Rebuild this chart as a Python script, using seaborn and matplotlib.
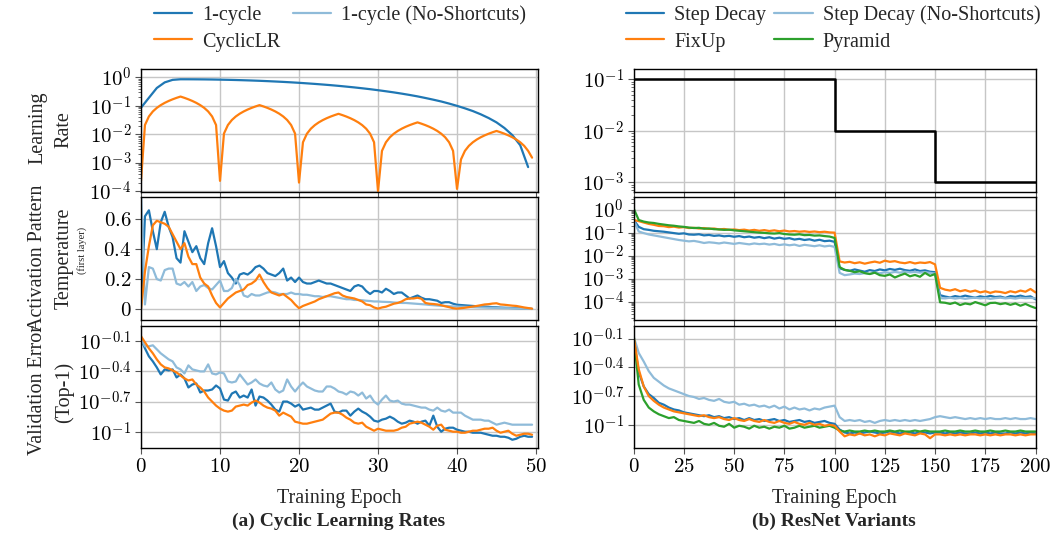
import numpy as np
import matplotlib
matplotlib.use("Agg")
import matplotlib.pyplot as plt
from matplotlib.ticker import LogLocator, NullLocator, NullFormatter
import seaborn as sns

# ---------------- data: (a) cyclic learning rates, 0.5-epoch grid ----------------
epochs_a = np.arange(0, 50, 0.5)
epochs_1c = np.arange(0, 50)

lr_onecycle = [0.085, 0.19, 0.42, 0.66, 0.81, 0.85, 0.849, 0.846, 0.841, 0.834,
               0.824, 0.813, 0.800, 0.785, 0.769, 0.751, 0.731, 0.709, 0.687, 0.663,
               0.638, 0.611, 0.584, 0.556, 0.528, 0.499, 0.469, 0.440, 0.410, 0.381,
               0.351, 0.322, 0.294, 0.266, 0.239, 0.213, 0.187, 0.163, 0.141, 0.119,
               0.099, 0.081, 0.065, 0.050, 0.037, 0.026, 0.0165, 0.0093, 0.0041, 0.0007]

lr_cyclic = [0.00023, 0.021, 0.042, 0.063, 0.084, 0.105, 0.126, 0.147, 0.168, 0.189,
             0.21, 0.189, 0.168, 0.147, 0.126, 0.105, 0.084, 0.063, 0.042, 0.021,
             0.00023, 0.0105, 0.021, 0.0315, 0.042, 0.0525, 0.063, 0.0735, 0.084, 0.0945,
             0.105, 0.0945, 0.084, 0.0735, 0.063, 0.0525, 0.042, 0.0315, 0.021, 0.0105,
             0.0002, 0.0052, 0.0104, 0.0156, 0.0208, 0.026, 0.0312, 0.0364, 0.0416, 0.0468,
             0.052, 0.0468, 0.0416, 0.0364, 0.0312, 0.026, 0.0208, 0.0156, 0.0104, 0.0052,
             0.0001, 0.0026, 0.0052, 0.0078, 0.0104, 0.013, 0.0156, 0.0182, 0.0208, 0.0234,
             0.026, 0.0234, 0.0208, 0.0182, 0.0156, 0.013, 0.0104, 0.0078, 0.0052, 0.0026,
             0.00012, 0.0013, 0.0026, 0.0039, 0.0052, 0.0065, 0.0078, 0.0091, 0.0104, 0.0117,
             0.013, 0.0117, 0.0104, 0.0091, 0.0078, 0.0065, 0.0052, 0.0039, 0.0026, 0.0015]

temp_onecycle = [0.0, 0.62, 0.66, 0.52, 0.40, 0.58, 0.65, 0.55, 0.48, 0.34,
                 0.31, 0.52, 0.45, 0.38, 0.42, 0.34, 0.30, 0.44, 0.54, 0.42,
                 0.28, 0.32, 0.24, 0.21, 0.17, 0.23, 0.24, 0.23, 0.25, 0.28,
                 0.29, 0.27, 0.24, 0.23, 0.22, 0.24, 0.27, 0.19, 0.21, 0.18,
                 0.21, 0.18, 0.17, 0.17, 0.18, 0.19, 0.18, 0.17, 0.17, 0.16,
                 0.15, 0.14, 0.13, 0.12, 0.15, 0.16, 0.15, 0.12, 0.10, 0.12,
                 0.12, 0.11, 0.135, 0.12, 0.10, 0.11, 0.11, 0.09, 0.07, 0.08,
                 0.09, 0.075, 0.065, 0.065, 0.06, 0.055, 0.04, 0.045, 0.045, 0.035,
                 0.028, 0.026, 0.024, 0.022, 0.02, 0.018, 0.017, 0.016, 0.014, 0.012,
                 0.011, 0.009, 0.008, 0.007, 0.006, 0.005, 0.004, 0.003, 0.002, 0.0]

temp_cyclic = [0.0, 0.25, 0.42, 0.56, 0.59, 0.58, 0.57, 0.55, 0.50, 0.45,
               0.40, 0.44, 0.35, 0.30, 0.30, 0.21, 0.17, 0.15, 0.09, 0.04,
               0.01, 0.04, 0.07, 0.09, 0.11, 0.12, 0.13, 0.16, 0.17, 0.19,
               0.23, 0.18, 0.14, 0.11, 0.10, 0.09, 0.10, 0.08, 0.06, 0.03,
               0.005, 0.02, 0.03, 0.04, 0.05, 0.065, 0.075, 0.085, 0.095, 0.105,
               0.11, 0.09, 0.08, 0.075, 0.07, 0.06, 0.05, 0.03, 0.025, 0.01,
               0.002, 0.01, 0.015, 0.025, 0.035, 0.04, 0.05, 0.065, 0.07, 0.07,
               0.075, 0.068, 0.04, 0.035, 0.033, 0.03, 0.025, 0.018, 0.012, 0.005,
               0.002, 0.005, 0.008, 0.012, 0.016, 0.02, 0.025, 0.03, 0.032, 0.036,
               0.038, 0.03, 0.028, 0.025, 0.022, 0.02, 0.015, 0.01, 0.006, 0.002]

temp_noshort = [0.78, 0.03, 0.28, 0.27, 0.20, 0.19, 0.26, 0.27, 0.27, 0.17,
                0.16, 0.18, 0.15, 0.18, 0.12, 0.15, 0.16, 0.14, 0.13, 0.16,
                0.19, 0.12, 0.12, 0.14, 0.20, 0.16, 0.09, 0.08, 0.10, 0.09,
                0.09, 0.10, 0.11, 0.115, 0.11, 0.10, 0.10, 0.10, 0.11, 0.10,
                0.10, 0.095, 0.095, 0.09, 0.085, 0.085, 0.08, 0.085, 0.085, 0.08,
                0.075, 0.07, 0.065, 0.065, 0.06, 0.06, 0.058, 0.055, 0.053, 0.05,
                0.05, 0.048, 0.047, 0.046, 0.043, 0.042, 0.04, 0.04, 0.038, 0.036,
                0.034, 0.032, 0.03, 0.027, 0.025, 0.023, 0.021, 0.02, 0.018, 0.017,
                0.016, 0.015, 0.014, 0.013, 0.012, 0.011, 0.01, 0.009, 0.008, 0.008,
                0.007, 0.006, 0.005, 0.005, 0.004, 0.003, 0.003, 0.002, 0.001, 0.0]

# validation error, stored as log10 of the error
err_onecycle_log = [-0.08, -0.17, -0.25, -0.30, -0.36, -0.43, -0.38, -0.39, -0.38, -0.46,
                    -0.43, -0.47, -0.56, -0.53, -0.52, -0.61, -0.59, -0.59, -0.58, -0.54,
                    -0.57, -0.68, -0.69, -0.62, -0.60, -0.66, -0.64, -0.66, -0.58, -0.74,
                    -0.65, -0.66, -0.69, -0.73, -0.78, -0.80, -0.70, -0.70, -0.72, -0.75,
                    -0.73, -0.78, -0.77, -0.76, -0.78, -0.78, -0.76, -0.74, -0.72, -0.80,
                    -0.81, -0.79, -0.79, -0.84, -0.80, -0.77, -0.80, -0.82, -0.85, -0.89,
                    -0.90, -0.88, -0.87, -0.85, -0.87, -0.90, -0.92, -0.91, -0.89, -0.90,
                    -0.92, -0.90, -0.89, -0.94, -0.84, -0.95, -1.00, -0.97, -0.96, -0.96,
                    -0.98, -0.99, -1.00, -1.00, -1.01, -1.01, -1.01, -1.02, -1.03, -1.04,
                    -1.04, -1.05, -1.05, -1.06, -1.08, -1.07, -1.05, -1.04, -1.05, -1.05]

err_cyclic_log = [-0.05, -0.11, -0.17, -0.22, -0.28, -0.33, -0.36, -0.37, -0.39, -0.41,
                  -0.44, -0.47, -0.49, -0.48, -0.53, -0.56, -0.60, -0.66, -0.70, -0.74,
                  -0.77, -0.79, -0.80, -0.79, -0.75, -0.74, -0.73, -0.74, -0.71, -0.69,
                  -0.71, -0.74, -0.76, -0.77, -0.79, -0.84, -0.81, -0.83, -0.85, -0.90,
                  -0.91, -0.92, -0.92, -0.91, -0.90, -0.89, -0.88, -0.85, -0.82, -0.81,
                  -0.81, -0.83, -0.86, -0.88, -0.91, -0.92, -0.91, -0.95, -0.97, -0.99,
                  -0.97, -0.98, -0.99, -0.99, -0.99, -0.98, -0.96, -0.95, -0.92, -0.91,
                  -0.90, -0.91, -0.93, -0.95, -0.98, -0.94, -0.93, -0.98, -0.99, -1.00,
                  -1.00, -1.01, -1.01, -1.00, -0.99, -0.99, -0.98, -0.97, -0.97, -0.96,
                  -0.99, -1.01, -1.00, -0.99, -1.02, -1.04, -1.03, -1.02, -1.02, -1.03]

err_noshort_log = [-0.08, -0.15, -0.15, -0.14, -0.18, -0.22, -0.25, -0.28, -0.30, -0.36,
                   -0.38, -0.42, -0.34, -0.38, -0.39, -0.40, -0.40, -0.33, -0.42, -0.43,
                   -0.41, -0.42, -0.50, -0.51, -0.50, -0.43, -0.48, -0.53, -0.51, -0.48,
                   -0.52, -0.54, -0.55, -0.51, -0.58, -0.61, -0.59, -0.48, -0.55, -0.60,
                   -0.55, -0.51, -0.55, -0.57, -0.59, -0.60, -0.60, -0.55, -0.55, -0.57,
                   -0.60, -0.61, -0.63, -0.60, -0.61, -0.64, -0.61, -0.67, -0.64, -0.70,
                   -0.73, -0.68, -0.64, -0.69, -0.70, -0.69, -0.72, -0.73, -0.73, -0.74,
                   -0.75, -0.76, -0.76, -0.78, -0.79, -0.76, -0.79, -0.80, -0.78, -0.81,
                   -0.81, -0.81, -0.84, -0.86, -0.88, -0.88, -0.88, -0.89, -0.89, -0.91,
                   -0.93, -0.92, -0.91, -0.92, -0.93, -0.93, -0.93, -0.93, -0.93, -0.93]

# ---------------- data: (b) ResNet variants, 2.5-epoch grid ----------------
epochs_b = np.arange(0, 200.1, 2.5)
step_epochs = [0, 100, 150, 200]
step_lr = [0.1, 0.01, 0.001, 0.001]

# activation temperature (log10)
tmp_step_log = [-0.45, -0.75, -0.85, -0.88, -0.92, -0.94, -0.96, -0.99, -1.02, -1.05,
                -1.03, -1.08, -1.09, -1.07, -1.12, -1.10, -1.14, -1.12, -1.16, -1.14,
                -1.18, -1.15, -1.20, -1.17, -1.22, -1.19, -1.24, -1.20, -1.26, -1.22,
                -1.27, -1.24, -1.30, -1.27, -1.32, -1.29, -1.35, -1.31, -1.37, -1.35,
                -1.40,
                -2.55, -2.62, -2.66, -2.60, -2.65, -2.70, -2.63, -2.67, -2.60, -2.64,
                -2.58, -2.62, -2.57, -2.63, -2.66, -2.60, -2.67, -2.64, -2.70, -2.72,
                -3.72, -3.78, -3.82, -3.76, -3.80, -3.74, -3.79, -3.83, -3.77, -3.81,
                -3.75, -3.80, -3.78, -3.84, -3.76, -3.79, -3.74, -3.80, -3.77, -3.90]

tmp_noshort_log = [-0.45, -0.95, -1.02, -1.08, -1.12, -1.16, -1.20, -1.24, -1.28, -1.32,
                   -1.35, -1.38, -1.36, -1.40, -1.45, -1.42, -1.44, -1.47, -1.43, -1.46,
                   -1.49, -1.45, -1.48, -1.51, -1.47, -1.50, -1.48, -1.52, -1.49, -1.54,
                   -1.51, -1.55, -1.52, -1.58, -1.53, -1.56, -1.59, -1.55, -1.60, -1.57,
                   -1.62,
                   -2.75, -2.85, -2.82, -2.78, -2.80, -2.76, -2.79, -2.74, -2.77, -2.72,
                   -2.75, -2.71, -2.74, -2.70, -2.73, -2.71, -2.74, -2.72, -2.75, -2.78,
                   -3.85, -3.86, -3.83, -3.87, -3.84, -3.88, -3.85, -3.83, -3.86, -3.84,
                   -3.88, -3.85, -3.83, -3.86, -3.84, -3.87, -3.83, -3.85, -3.84, -3.86]

tmp_fixup_log = [-0.45, -0.50, -0.56, -0.62, -0.66, -0.71, -0.72, -0.76, -0.74, -0.78,
                 -0.76, -0.80, -0.79, -0.82, -0.80, -0.84, -0.82, -0.86, -0.84, -0.88,
                 -0.86, -0.89, -0.87, -0.91, -0.88, -0.92, -0.89, -0.93, -0.90, -0.94,
                 -0.91, -0.95, -0.93, -0.96, -0.94, -0.97, -0.95, -0.98, -0.96, -0.99,
                 -1.00,
                 -2.25, -2.30, -2.27, -2.33, -2.29, -2.35, -2.30, -2.26, -2.31, -2.22,
                 -2.27, -2.24, -2.30, -2.33, -2.28, -2.34, -2.30, -2.32, -2.28, -2.38,
                 -3.40, -3.48, -3.52, -3.46, -3.55, -3.50, -3.57, -3.52, -3.60, -3.55,
                 -3.62, -3.56, -3.58, -3.63, -3.55, -3.60, -3.52, -3.57, -3.45, -3.60]

tmp_pyramid_log = [0.05, -0.45, -0.52, -0.56, -0.58, -0.62, -0.65, -0.68, -0.70, -0.73,
                   -0.75, -0.78, -0.80, -0.79, -0.83, -0.82, -0.85, -0.86, -0.88, -0.87,
                   -0.90, -0.92, -0.94, -0.96, -0.98, -1.00, -1.01, -1.03, -1.04, -1.02,
                   -1.06, -1.08, -1.09, -1.07, -1.11, -1.10, -1.13, -1.12, -1.15, -1.17,
                   -1.23,
                   -2.50, -2.62, -2.66, -2.72, -2.68, -2.76, -2.80, -2.74, -2.85, -2.88,
                   -2.82, -2.95, -2.86, -2.78, -2.90, -2.84, -2.92, -2.75, -2.88, -2.80,
                   -4.03, -4.05, -4.10, -4.04, -4.15, -4.08, -4.12, -4.02, -4.09, -4.16,
                   -4.06, -4.05, -4.11, -4.07, -4.14, -4.08, -4.18, -4.10, -4.20, -4.28]

# validation error (log10)
val_step_log = [-0.10, -0.45, -0.60, -0.68, -0.72, -0.77, -0.79, -0.82, -0.84, -0.85,
                -0.87, -0.88, -0.89, -0.90, -0.91, -0.90, -0.92, -0.91, -0.93, -0.92,
                -0.94, -0.93, -0.95, -0.93, -0.95, -0.94, -0.96, -0.95, -0.94, -0.96,
                -0.95, -0.97, -0.96, -0.95, -0.97, -0.96, -0.98, -0.97, -0.96, -0.98,
                -0.99,
                -1.05, -1.08, -1.09, -1.08, -1.09, -1.08, -1.07, -1.08, -1.09, -1.08,
                -1.07, -1.08, -1.09, -1.08, -1.08, -1.09, -1.08, -1.08, -1.09, -1.08,
                -1.08, -1.09, -1.08, -1.09, -1.08, -1.09, -1.09, -1.08, -1.09, -1.08,
                -1.09, -1.08, -1.09, -1.09, -1.08, -1.09, -1.08, -1.09, -1.08, -1.09]

val_noshort_log = [-0.08, -0.25, -0.34, -0.44, -0.51, -0.55, -0.59, -0.62, -0.64, -0.66,
                   -0.68, -0.70, -0.71, -0.73, -0.72, -0.74, -0.75, -0.73, -0.76, -0.77,
                   -0.76, -0.79, -0.78, -0.80, -0.79, -0.81, -0.80, -0.82, -0.80, -0.83,
                   -0.81, -0.84, -0.82, -0.84, -0.83, -0.85, -0.83, -0.84, -0.82, -0.81,
                   -0.80,
                   -0.92, -0.96, -0.95, -0.96, -0.95, -0.97, -0.96, -0.98, -0.96, -0.95,
                   -0.96, -0.95, -0.96, -0.95, -0.96, -0.95, -0.96, -0.95, -0.94, -0.92,
                   -0.91, -0.92, -0.93, -0.92, -0.93, -0.94, -0.93, -0.94, -0.93, -0.94,
                   -0.93, -0.94, -0.94, -0.93, -0.94, -0.93, -0.94, -0.94, -0.93, -0.94]

val_fixup_log = [-0.08, -0.42, -0.60, -0.70, -0.75, -0.79, -0.82, -0.84, -0.86, -0.87,
                 -0.88, -0.89, -0.90, -0.91, -0.90, -0.92, -0.93, -0.92, -0.94, -0.95,
                 -0.93, -0.95, -0.96, -0.94, -0.96, -0.97, -0.95, -0.97, -0.98, -0.96,
                 -0.98, -0.99, -0.97, -0.99, -1.00, -0.98, -1.00, -0.99, -1.01, -1.00,
                 -1.01,
                 -1.07, -1.12, -1.10, -1.11, -1.09, -1.11, -1.10, -1.12, -1.10, -1.11,
                 -1.09, -1.10, -1.11, -1.09, -1.10, -1.11, -1.09, -1.10, -1.14, -1.10,
                 -1.10, -1.11, -1.10, -1.11, -1.10, -1.11, -1.10, -1.10, -1.11, -1.10,
                 -1.11, -1.10, -1.11, -1.10, -1.10, -1.11, -1.10, -1.11, -1.10, -1.10]

val_pyramid_log = [-0.07, -0.58, -0.74, -0.82, -0.86, -0.89, -0.91, -0.93, -0.92, -0.95,
                   -0.96, -0.97, -0.98, -0.96, -0.99, -1.00, -0.98, -1.01, -1.02, -0.99,
                   -1.03, -1.01, -1.02, -1.04, -1.01, -1.03, -1.02, -1.04, -1.02, -1.03,
                   -1.01, -1.04, -1.03, -1.01, -1.03, -1.02, -1.01, -1.03, -1.02, -1.01,
                   -1.03,
                   -1.06, -1.07, -1.06, -1.07, -1.07, -1.06, -1.07, -1.06, -1.07, -1.07,
                   -1.06, -1.07, -1.06, -1.07, -1.07, -1.06, -1.07, -1.06, -1.07, -1.07,
                   -1.07, -1.06, -1.07, -1.07, -1.06, -1.07, -1.07, -1.06, -1.07, -1.07,
                   -1.06, -1.07, -1.07, -1.06, -1.07, -1.07, -1.06, -1.07, -1.07, -1.07]

# ---------------- style ----------------
sns.set_theme(style="whitegrid")
plt.rcParams["font.family"] = ["Liberation Serif", "DejaVu Serif"]
plt.rcParams["mathtext.fontset"] = "cm"

BLUE = "#1f77b4"
LBLUE = "#8fbbd9"
ORANGE = "#ff7f0e"
GREEN = "#2ca02c"
LW = 1.6

W, H = 1053, 535
fig = plt.figure(figsize=(W / 100, H / 100), dpi=100)


def box(x0, x1, y0, y1):
    return [x0 / W, 1 - y1 / H, (x1 - x0) / W, (y1 - y0) / H]


cols = {"a": (141, 538), "b": (633.7, 1035.5)}
rows = [(69, 192), (197, 320), (326, 448)]
axes = {}
for c, (x0, x1) in cols.items():
    for r, (y0, y1) in enumerate(rows):
        axes[(c, r)] = fig.add_axes(box(x0, x1, y0, y1))


def line(ax, x, y, color, label=None, **kw):
    sns.lineplot(x=x, y=y, ax=ax, color=color, linewidth=LW, label=label, **kw)
    if ax.get_legend() is not None:
        ax.get_legend().remove()


def style(ax, xlim, xticks, bottom_row):
    ax.set_xlim(*xlim)
    ax.set_xticks(xticks)
    ax.set_xticklabels([f"${t}$" for t in xticks] if bottom_row else [])
    for s in ax.spines.values():
        s.set_color("black")
        s.set_linewidth(1.0)
    ax.grid(True, which="major", color="#c6c6c6", linewidth=1.0)
    ax.grid(False, which="minor")
    ax.tick_params(which="both", direction="out", bottom=True, left=True,
                   color="#555555", labelsize=15, pad=3, labelcolor="black")
    ax.tick_params(which="major", length=4, width=0.8)
    ax.tick_params(which="minor", length=2.5, width=0.6)
    ax.set_xlabel("")
    ax.set_ylabel("")


def log_ticks(ax, exps, labels, minor=True):
    ax.set_yscale("log")
    ax.set_yticks([10.0 ** e for e in exps])
    ax.set_yticklabels(labels)
    if minor:
        ax.yaxis.set_minor_locator(LogLocator(base=10, subs=np.arange(2, 10), numticks=30))
        ax.yaxis.set_minor_formatter(NullFormatter())
    else:
        ax.yaxis.set_minor_locator(NullLocator())


# ---- (a) top: learning rate ----
ax = axes[("a", 0)]
line(ax, epochs_1c, lr_onecycle, BLUE)
line(ax, epochs_a, lr_cyclic, ORANGE)
log_ticks(ax, [0, -1, -2, -3, -4], ["$10^{0}$", "$10^{-1}$", "$10^{-2}$", "$10^{-3}$", "$10^{-4}$"])
ax.set_ylim(10 ** -4.03, 10 ** 0.29)
style(ax, (0, 50.25), [0, 10, 20, 30, 40, 50], False)

# ---- (a) middle: activation temperature ----
ax = axes[("a", 1)]
line(ax, epochs_a, temp_onecycle, BLUE, label="1-cycle")
line(ax, epochs_a, temp_noshort, LBLUE, label="1-cycle (No-Shortcuts)")
line(ax, epochs_a, temp_cyclic, ORANGE, label="CyclicLR")
ax.set_ylim(-0.074, 0.749)
ax.set_yticks([0, 0.2, 0.4, 0.6])
ax.set_yticklabels(["$0$", "$0.2$", "$0.4$", "$0.6$"])
style(ax, (0, 50.25), [0, 10, 20, 30, 40, 50], False)

# ---- (a) bottom: validation error ----
ax = axes[("a", 2)]
line(ax, epochs_a, 10 ** np.array(err_onecycle_log), BLUE)
line(ax, epochs_a, 10 ** np.array(err_noshort_log), LBLUE)
line(ax, epochs_a, 10 ** np.array(err_cyclic_log), ORANGE)
log_ticks(ax, [-0.1, -0.4, -0.7, -1], ["$10^{-0.1}$", "$10^{-0.4}$", "$10^{-0.7}$", "$10^{-1}$"], minor=False)
ax.set_ylim(10 ** -1.162, 10 ** 0.052)
style(ax, (0, 50.25), [0, 10, 20, 30, 40, 50], True)

# ---- (b) top: step schedule ----
ax = axes[("b", 0)]
sns.lineplot(x=step_epochs, y=step_lr, ax=ax, color="black", linewidth=1.8,
             drawstyle="steps-post")
log_ticks(ax, [-1, -2, -3], ["$10^{-1}$", "$10^{-2}$", "$10^{-3}$"])
ax.set_ylim(10 ** -3.19, 10 ** -0.8)
style(ax, (0, 200), [0, 25, 50, 75, 100, 125, 150, 175, 200], False)

# ---- (b) middle ----
ax = axes[("b", 1)]
line(ax, epochs_b, 10 ** np.array(tmp_step_log), BLUE, label="Step Decay")
line(ax, epochs_b, 10 ** np.array(tmp_noshort_log), LBLUE, label="Step Decay (No-Shortcuts)")
line(ax, epochs_b, 10 ** np.array(tmp_fixup_log), ORANGE, label="FixUp")
line(ax, epochs_b, 10 ** np.array(tmp_pyramid_log), GREEN, label="Pyramid")
log_ticks(ax, [0, -1, -2, -3, -4], ["$10^{0}$", "$10^{-1}$", "$10^{-2}$", "$10^{-3}$", "$10^{-4}$"])
ax.set_ylim(10 ** -4.8, 10 ** 0.55)
style(ax, (0, 200), [0, 25, 50, 75, 100, 125, 150, 175, 200], False)

# ---- (b) bottom ----
ax = axes[("b", 2)]
line(ax, epochs_b, 10 ** np.array(val_noshort_log), LBLUE)
line(ax, epochs_b, 10 ** np.array(val_step_log), BLUE)
line(ax, epochs_b, 10 ** np.array(val_pyramid_log), GREEN)
line(ax, epochs_b, 10 ** np.array(val_fixup_log), ORANGE)
log_ticks(ax, [-0.1, -0.4, -0.7, -1], ["$10^{-0.1}$", "$10^{-0.4}$", "$10^{-0.7}$", "$10^{-1}$"], minor=False)
ax.set_ylim(10 ** -1.242, 10 ** 0.031)
style(ax, (0, 200), [0, 25, 50, 75, 100, 125, 150, 175, 200], True)

# ---- legends ----
ha, la = axes[("a", 1)].get_legend_handles_labels()
order = [0, 2, 1]
fig.legend([ha[i] for i in order], [la[i] for i in order], loc="upper left",
           bbox_to_anchor=(150 / W, 1 - 1 / H), ncol=2, frameon=False, fontsize=14.5,
           handlelength=1.9, handletextpad=0.5, columnspacing=0.6, labelspacing=0.38,
           borderpad=0.2, borderaxespad=0)
hb, lb = axes[("b", 1)].get_legend_handles_labels()
order = [0, 2, 1, 3]
fig.legend([hb[i] for i in order], [lb[i] for i in order], loc="upper left",
           bbox_to_anchor=(622 / W, 1 - 1 / H), ncol=2, frameon=False, fontsize=14.5,
           handlelength=1.9, handletextpad=0.5, columnspacing=0.4, labelspacing=0.38,
           borderpad=0.2, borderaxespad=0)

# ---- y labels ----
ylab = dict(rotation=90, ha="center", va="center", fontsize=14.5)
fig.text(38 / W, 1 - 128 / H, "Learning", **ylab)
fig.text(64 / W, 1 - 130 / H, "Rate", **ylab)
fig.text(38 / W, 1 - 258 / H, "Activation Pattern", **ylab)
fig.text(64 / W, 1 - 258 / H, "Temperature", **ylab)
fig.text(82 / W, 1 - 250 / H, "(first layer)", rotation=90, ha="center", va="center", fontsize=7.5)
fig.text(38 / W, 1 - 390 / H, "Validation Error", **ylab)
fig.text(64 / W, 1 - 392 / H, "(Top-1)", **ylab)

# ---- x labels and captions ----
for xc, cap in [(339 / W, "(a) Cyclic Learning Rates"), (834 / W, "(b) ResNet Variants")]:
    fig.text(xc, 1 - 499 / H, "Training Epoch", ha="center", va="center", fontsize=14.5)
    fig.text(xc, 1 - 521 / H, cap, ha="center", va="center", fontsize=14, fontweight="bold")

fig.savefig("out.png", dpi=100)
